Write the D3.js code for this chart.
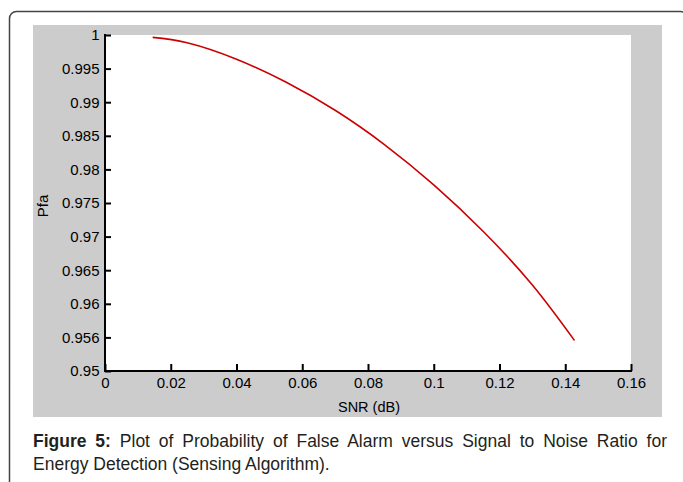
<!DOCTYPE html>
<html>
<head>
<meta charset="utf-8">
<script src="https://cdn.jsdelivr.net/npm/d3@7"></script>
<style>
html,body{margin:0;padding:0;background:#fff;}
svg{display:block;}
</style>
</head>
<body>
<svg id="chart" width="683" height="482"></svg>
<script>
// Data
const snr = [0.0145, 0.025, 0.04, 0.055, 0.07, 0.085, 0.1, 0.115, 0.13, 0.1428];
const pfa = [0.99965, 0.99884, 0.9964, 0.9930, 0.9888, 0.9837, 0.9777, 0.9708, 0.9628, 0.95455];
const xTicks = [0, 0.02, 0.04, 0.06, 0.08, 0.1, 0.12, 0.14, 0.16];
const xTickLabels = ["0", "0.02", "0.04", "0.06", "0.08", "0.1", "0.12", "0.14", "0.16"];
const yTicks = [1, 0.995, 0.99, 0.985, 0.98, 0.975, 0.97, 0.965, 0.96, 0.955, 0.95];
const yTickLabels = ["1", "0.995", "0.99", "0.985", "0.98", "0.975", "0.97", "0.965", "0.96", "0.956", "0.95"];
const xTitle = "SNR (dB)";
const yTitle = "Pfa";
const captionBold = "Figure 5:";
const captionLine1 = " Plot of Probability of False Alarm versus Signal to Noise Ratio for";
const captionLine2 = "Energy Detection (Sensing Algorithm).";

const svg = d3.select("#chart");
const font = "'Liberation Sans', Arial, sans-serif";

// outer rounded frame
svg.append("rect").attr("x", 9.5).attr("y", 11.5).attr("width", 678).attr("height", 520)
  .attr("rx", 7).attr("fill", "#fff").attr("stroke", "#444").attr("stroke-width", 1.5);

// gray panel
svg.append("rect").attr("x", 33).attr("y", 25).attr("width", 629).attr("height", 392).attr("fill", "#cccccc");

const L = 105, R = 631, T = 35, B = 371;
// plot area
svg.append("rect").attr("x", L).attr("y", T).attr("width", R - L).attr("height", B - T).attr("fill", "#fff");

const x = d3.scaleLinear().domain([0, 0.16]).range([L, R]);
const y = d3.scaleLinear().domain([0.95, 1]).range([B, T]);

const xAxis = d3.axisBottom(x).tickValues(xTicks).tickSizeInner(-7).tickSizeOuter(0)
  .tickPadding(6.5).tickFormat((d, i) => xTickLabels[i]);
const gx = svg.append("g").attr("transform", `translate(0,${B})`).call(xAxis);

const yAxis = d3.axisLeft(y).tickValues(yTicks).tickSizeInner(-6).tickSizeOuter(0)
  .tickPadding(5.5).tickFormat((d, i) => yTickLabels[i]);
const gy = svg.append("g").attr("transform", `translate(${L},0)`).call(yAxis);

[gx, gy].forEach(g => {
  g.select(".domain").attr("stroke", "#000").attr("stroke-width", 2);
  g.selectAll(".tick line").attr("stroke", "#000").attr("stroke-width", 2);
  g.selectAll(".tick text").attr("fill", "#000").style("font-family", font).style("font-size", "15px");
});
gx.select(".domain").attr("d", `M${L - 1},0H${R + 1}`);
gy.select(".domain").attr("d", `M0,${B + 1}V${T - 1}`);

// curve
const pts = snr.map((s, i) => [s, pfa[i]]);
const line = d3.line().x(d => x(d[0])).y(d => y(d[1])).curve(d3.curveNatural);
svg.append("path").datum(pts).attr("d", line).attr("fill", "none")
  .attr("stroke", "#cc0000").attr("stroke-width", 1.6);

// axis titles
svg.append("text").attr("x", 369).attr("y", 412).attr("text-anchor", "middle")
  .style("font-family", font).style("font-size", "14.5px").attr("fill", "#000").text(xTitle);
svg.append("text").attr("transform", "translate(48,206) rotate(-90)").attr("text-anchor", "middle")
  .style("font-family", font).style("font-size", "15px").attr("fill", "#000").text(yTitle);

// caption
const cap1 = svg.append("text").attr("x", 33).attr("y", 446.5)
  .style("font-family", font).style("font-size", "17.5px").attr("fill", "#231f20");
cap1.append("tspan").style("font-weight", "bold").text(captionBold);
cap1.append("tspan").text(captionLine1);
const cap2 = svg.append("text").attr("x", 33).attr("y", 469.5)
  .style("font-family", font).style("font-size", "17.5px").attr("fill", "#231f20").text(captionLine2);

// fit line widths like the reference (justified)
const w1 = cap1.node().getComputedTextLength();
const target1 = 667 - 33;
const spaces1 = (captionBold + captionLine1).split(" ").length - 1;
cap1.style("word-spacing", ((target1 - w1) / spaces1) + "px");
</script>
</body>
</html>
